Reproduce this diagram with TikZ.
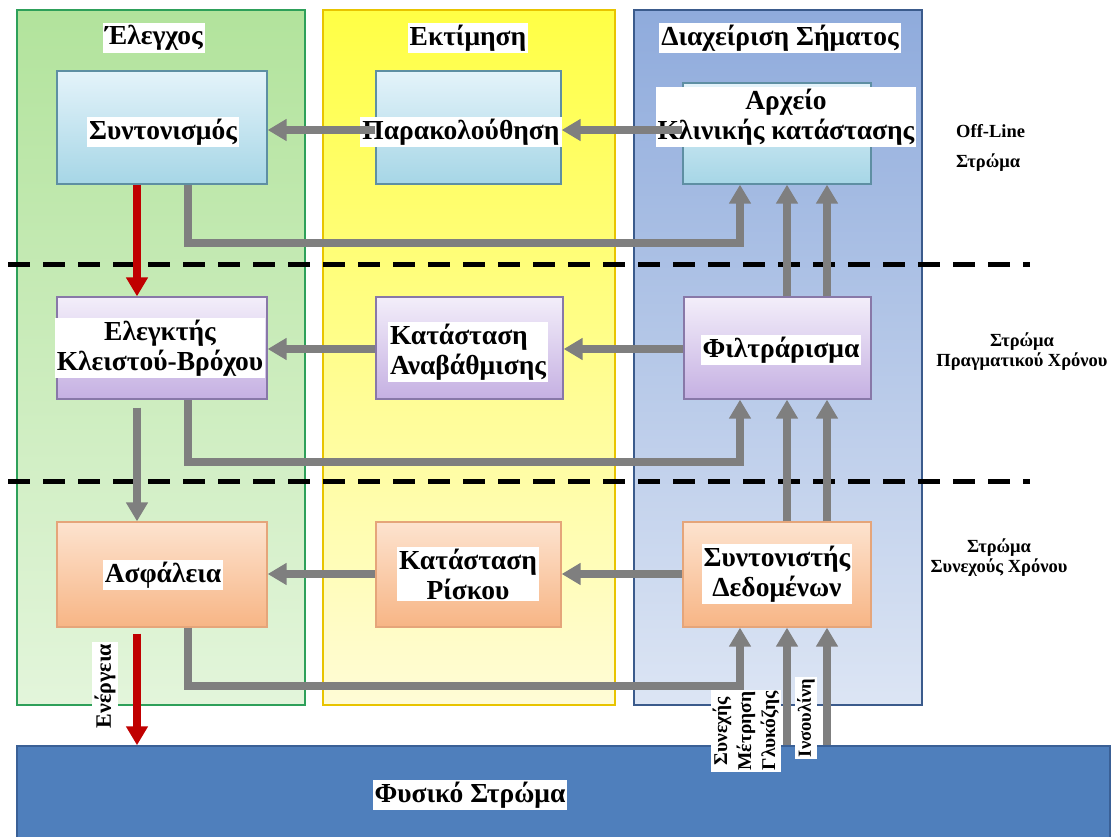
\documentclass[tikz,border=0pt]{standalone}
\usepackage{fontspec}
\setmainfont{Liberation Serif}
\usetikzlibrary{arrows.meta}
\definecolor{grnT}{HTML}{B2E39C}
\definecolor{grnB}{HTML}{E3F5DB}
\definecolor{grnbord}{HTML}{2EA05A}
\definecolor{yelT}{HTML}{FFFF45}
\definecolor{yelB}{HTML}{FFFCD6}
\definecolor{yelbord}{HTML}{E8C400}
\definecolor{bluT}{HTML}{8FABDC}
\definecolor{bluB}{HTML}{DCE5F4}
\definecolor{blubord}{HTML}{3B5B8C}
\definecolor{cyT}{HTML}{E4F3FA}
\definecolor{cyB}{HTML}{A6D6E6}
\definecolor{cybord}{HTML}{5E8FA3}
\definecolor{puT}{HTML}{F3EEFA}
\definecolor{puB}{HTML}{C5B0E2}
\definecolor{pubord}{HTML}{8878A8}
\definecolor{orT}{HTML}{FDE3CF}
\definecolor{orB}{HTML}{F7B585}
\definecolor{orbord}{HTML}{E5A57A}
\definecolor{barblue}{HTML}{4F7FBC}
\definecolor{barbord}{HTML}{3A6096}
\definecolor{arrgray}{HTML}{7F7F7F}
\definecolor{arrred}{HTML}{C00000}
\newcommand\boxfont{\bfseries\fontsize{27.5}{30}\selectfont}
\newcommand\sidefont{\bfseries\fontsize{18.5}{20}\selectfont}
\begin{document}
\begin{tikzpicture}[x=1pt,y=-1pt,
  colbox/.style={shade, line width=2pt, inner sep=0pt},
  blk/.style={shade, line width=1.3pt, inner sep=0pt},
  cyanblk/.style={blk, top color=cyT, bottom color=cyB, draw=cybord},
  purpblk/.style={blk, top color=puT, bottom color=puB, draw=pubord},
  orngblk/.style={blk, top color=orT, bottom color=orB, draw=orbord},
  lbl/.style={fill=white, inner sep=2pt, font=\boxfont, align=center},
  side/.style={font=\sidefont, align=center, inner sep=1pt},
  rot/.style={fill=white, inner sep=2pt, rotate=90, align=center, font=\bfseries\fontsize{19.5}{24}\selectfont},
  garr/.style={draw=arrgray, line width=7.5pt, -{Triangle[length=19pt,width=21pt]}},
  rarr/.style={draw=arrred, line width=7.5pt, -{Triangle[length=19pt,width=21pt]}},
  layer/.style={draw=black, line width=5pt, dash pattern=on 22pt off 13pt}]
\useasboundingbox (0,0) rectangle (1113,836);
% columns
\node[colbox, top color=grnT, bottom color=grnB, draw=grnbord, minimum width=288pt, minimum height=695pt] (colA) at (161,357.5) {};
\node[colbox, top color=yelT, bottom color=yelB, draw=yelbord, minimum width=292pt, minimum height=695pt] (colB) at (469,357.5) {};
\node[colbox, top color=bluT, bottom color=bluB, draw=blubord, minimum width=288pt, minimum height=695pt] (colC) at (778,357.5) {};
\node[lbl] (hA) at (154,38) {Έλεγχος};
\node[lbl] (hB) at (468,38) {Εκτίμηση};
\node[lbl] (hC) at (780,38) {Διαχείριση Σήματος};
% layer separators
\coordinate (dl1) at (8,264);
\coordinate (dr1) at (1030,264);
\coordinate (dl2) at (8,481);
\coordinate (dr2) at (1030,481);
\draw[layer] (dl1) -- (dr1);
\draw[layer] (dl2) -- (dr2);
% blocks
\node[cyanblk, minimum width=210pt, minimum height=113pt] (sync) at (162,127.5) {};
\node[cyanblk, minimum width=185pt, minimum height=113pt] (monit) at (468.5,127.5) {};
\node[cyanblk, minimum width=188pt, minimum height=101pt] (arch) at (777,133.5) {};
\node[purpblk, minimum width=210pt, minimum height=102pt] (ctrl) at (162,348) {};
\node[purpblk, minimum width=187pt, minimum height=102pt] (upd) at (469.5,348) {};
\node[purpblk, minimum width=187pt, minimum height=102pt] (filt) at (777.5,348) {};
\node[orngblk, minimum width=210pt, minimum height=105pt] (safe) at (162,574.5) {};
\node[orngblk, minimum width=185pt, minimum height=105pt] (risk) at (468.5,574.5) {};
\node[orngblk, minimum width=188pt, minimum height=105pt] (coord) at (777,574.5) {};
% block texts
\node[lbl] (tsync) at (163,132) {Συντονισμός};
\node[lbl] (tmonit) at (461,132) {Παρακολούθηση};
\node[lbl] (tarch) at (786,117) {Αρχείο\hspace{26pt}\\Κλινικής κατάστασης};
\node[lbl] (tctrl) at (160,348) {Ελεγκτής\\Κλειστού-Βρόχου};
\node[lbl, align=left] (tupd) at (468,352) {Κατάσταση\\Αναβάθμισης};
\node[lbl] (tfilt) at (781,350) {Φιλτράρισμα};
\node[lbl] (tsafe) at (163,575) {Ασφάλεια};
\node[lbl] (trisk) at (468,574) {Κατάσταση\\Ρίσκου};
\node[lbl] (tcoord) at (777,574) {Συντονιστής\\Δεδομένων};
% side labels
\node[side, align=left, anchor=west, font=\bfseries\fontsize{18.5}{30}\selectfont] (s1) at (955,148) {Off-Line\\Στρώμα};
\node[side] (s2) at (1022,352) {Στρώμα\\Πραγματικού Χρόνου};
\node[side] (s3) at (999,558) {Στρώμα\\Συνεχούς Χρόνου};
% physical layer
\node[fill=barblue, draw=barbord, line width=1.5pt, minimum width=1093pt, minimum height=92pt, inner sep=0pt] (bar) at (563.5,792) {};
\node[lbl] (tbar) at (470,795) {Φυσικό Στρώμα};
% helper coordinates
\coordinate (ry1) at (0,130);
\coordinate (ry2) at (0,349);
\coordinate (ry3) at (0,574);
\coordinate (rx) at (137,0);
\coordinate (lx) at (188,0);
\coordinate (ax) at (740,0);
\coordinate (v1) at (787,0);
\coordinate (v2) at (827,0);
\coordinate (ly1) at (0,243);
\coordinate (ly2) at (0,462);
\coordinate (ly3) at (0,686);
% row 1
\draw[garr] (monit.west |- ry1) -- (sync.east |- ry1);
\draw[garr] (arch.west |- ry1) -- (monit.east |- ry1);
\draw[garr] (sync.south -| lx) -- (lx |- ly1) -- (ax |- ly1) -- (arch.south -| ax);
\draw[garr] (filt.north -| v1) -- (arch.south -| v1);
\draw[garr] (filt.north -| v2) -- (arch.south -| v2);
\draw[rarr] (sync.south -| rx) -- (ctrl.north -| rx);
% row 2
\draw[garr] (upd.west |- ry2) -- (ctrl.east |- ry2);
\draw[garr] (filt.west |- ry2) -- (upd.east |- ry2);
\draw[garr] (ctrl.south -| lx) -- (lx |- ly2) -- (ax |- ly2) -- (filt.south -| ax);
\draw[garr] (coord.north -| v1) -- (filt.south -| v1);
\draw[garr] (coord.north -| v2) -- (filt.south -| v2);
\draw[garr] ([yshift=-8pt]ctrl.south -| rx) -- (safe.north -| rx);
% row 3
\draw[garr] (risk.west |- ry3) -- (safe.east |- ry3);
\draw[garr] (coord.west |- ry3) -- (risk.east |- ry3);
\draw[garr] (safe.south -| lx) -- (lx |- ly3) -- (ax |- ly3) -- (coord.south -| ax);
\draw[garr] (bar.north -| v1) -- (coord.south -| v1);
\draw[garr] (bar.north -| v2) -- (coord.south -| v2);
\draw[rarr] ([yshift=-6pt]safe.south -| rx) -- (bar.north -| rx);
% rotated labels
\node[rot, font=\bfseries\fontsize{22}{24}\selectfont] (energy) at (105,686) {Ενέργεια};
\node[rot] (gluc) at (746,731) {Συνεχής\\Μέτρηση\\Γλυκόζης};
\node[rot, font=\bfseries\fontsize{18.5}{24}\selectfont] (insul) at (806,718) {Ινσουλίνη};
\end{tikzpicture}
\end{document}
